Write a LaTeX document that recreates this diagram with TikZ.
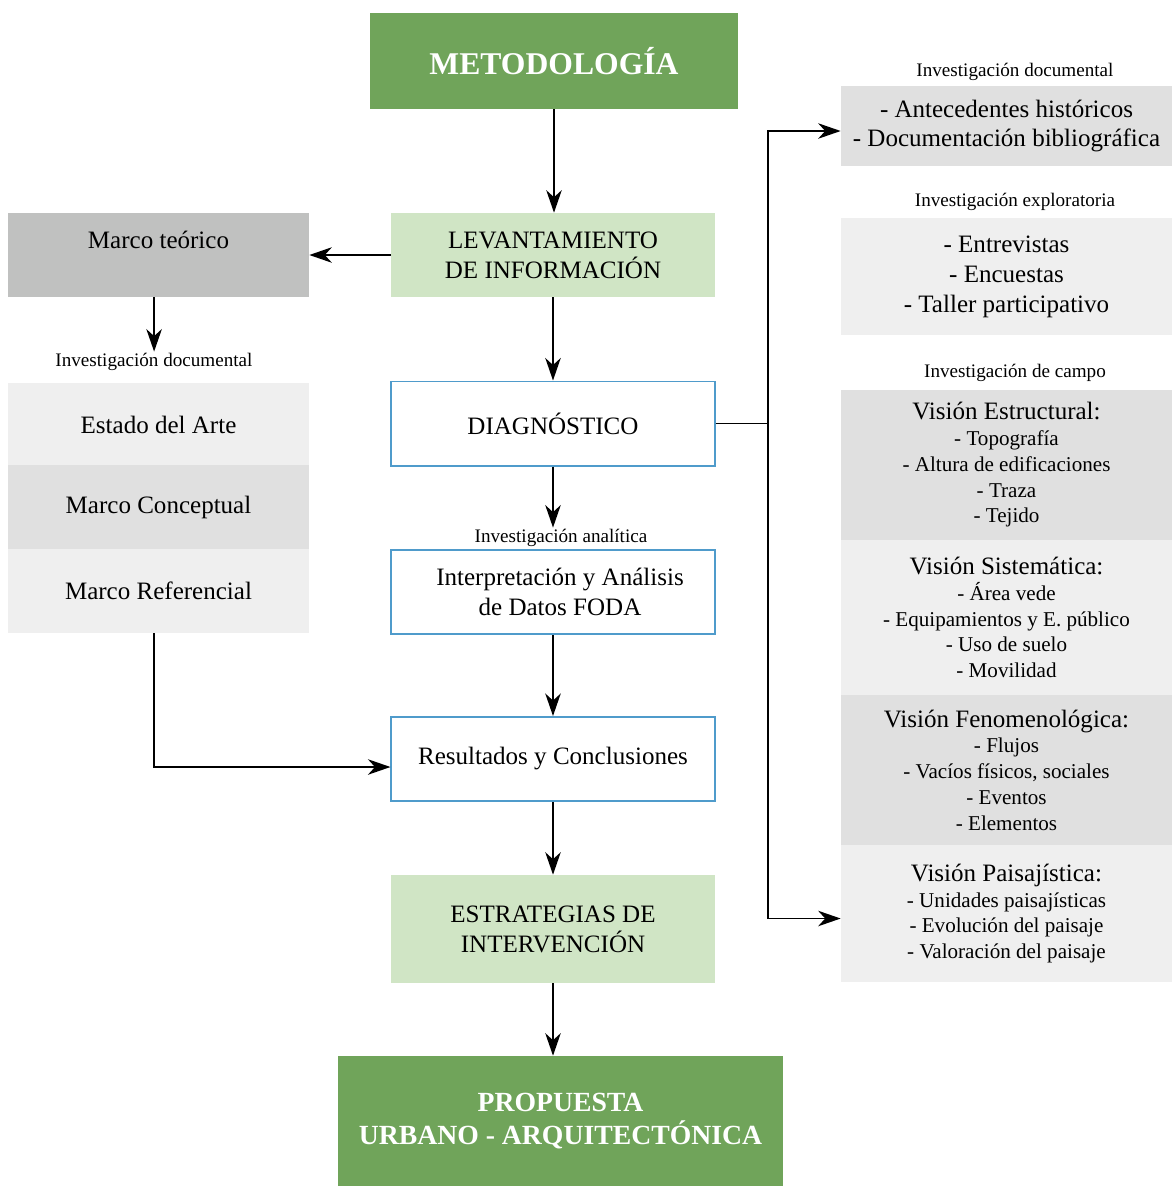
\documentclass[tikz,border=0pt]{standalone}
\usepackage{fontspec}
\setmainfont{Liberation Serif}
\usetikzlibrary{arrows.meta, positioning, calc}

\definecolor{mgreen}{HTML}{70A45A}
\definecolor{mlightgreen}{HTML}{D0E5C5}
\definecolor{mgray}{HTML}{C0C1C0}
\definecolor{mmid}{HTML}{E0E0E0}
\definecolor{mpale}{HTML}{EFEFEF}
\definecolor{mblue}{HTML}{4F9BCB}

\newcommand{\mainfs}{\fontsize{17.8}{21.3}\selectfont}
\newcommand{\itemfs}{\fontsize{15}{18.3}\selectfont}
\newcommand{\labfs}{\fontsize{13.6}{16}\selectfont}

\tikzset{
  headbox/.style={fill=mgreen, text=white, inner sep=0pt, align=center,
                  font=\fontsize{22.5}{26}\selectfont\bfseries},
  stagebox/.style={fill=mlightgreen, font=\mainfs, inner sep=0pt, align=center,
                   minimum width=8.075cm, minimum height=2.1cm},
  blubox/.style={draw=mblue, line width=1.4pt, fill=white, font=\mainfs, inner sep=0pt,
                 align=center, minimum width=8.075cm, minimum height=2.1cm},
  sidebox/.style={font=\mainfs, inner sep=0pt, align=center,
                  minimum width=7.525cm, minimum height=2.1cm},
  visbox/.style={font=\itemfs, inner sep=0pt, align=center, minimum width=8.275cm},
  tinylabel/.style={font=\labfs, inner sep=1pt},
  arr/.style={-{Stealth[length=16pt, width=11pt, inset=5pt]}, line width=1.4pt, black},
  wire/.style={line width=1.4pt, black},
}

\begin{document}
\begin{tikzpicture}[x=0.025cm, y=-0.025cm]
  \useasboundingbox (0,0) rectangle (1172,1186);

  %% ═══════════ CENTER: main sequence ═══════════
  \node[headbox, minimum width=9.2cm, minimum height=2.4cm] (metod) at (554,61)
    {METODOLOGÍA};
  \node[stagebox] (levant) at (553,255) {LEVANTAMIENTO\\DE INFORMACIÓN};
  \node[blubox] (diag) at (553,423.5) {DIAGNÓSTICO};
  \node[tinylabel] (lblanal) at (561,538) {Investigación analítica};
  \node[blubox] (interp) at (553,592) {\hspace*{0.35cm}Interpretación y Análisis\\\hspace*{0.35cm}de Datos FODA};
  \node[blubox] (result) at (553,759) {Resultados y Conclusiones};
  \node[stagebox, minimum height=2.7cm] (estrat) at (553,929)
    {ESTRATEGIAS DE\\INTERVENCIÓN};
  \node[headbox, font=\fontsize{19.7}{23.5}\selectfont\bfseries,
        minimum width=11.125cm, minimum height=3.25cm] (prop) at (560.5,1121)
    {PROPUESTA\\URBANO - ARQUITECTÓNICA};

  %% ═══════════ LEFT: theoretical frame ═══════════
  \node[sidebox, fill=mgray] (teorico) at (158.5,255) {Marco teórico\\ \mbox{}};
  \node[tinylabel] (lbldocl) at (154,362) {Investigación documental};
  \node[sidebox, fill=mpale] (estado) at (158.5,425) {Estado del Arte};
  \node[sidebox, fill=mmid] (concep) at (158.5,507) {Marco Conceptual};
  \node[sidebox, fill=mpale] (refer) at (158.5,591) {Marco Referencial};

  %% ═══════════ RIGHT: research types ═══════════
  \node[tinylabel] (lbldoc) at (1015,72) {Investigación documental};
  \node[visbox, font=\mainfs, fill=mmid, minimum height=2cm] (docu) at (1006.5,126)
    {- Antecedentes históricos\\- Documentación bibliográfica};

  \node[tinylabel] (lblexpl) at (1015,202) {Investigación exploratoria};
  \node[visbox, font=\mainfs, fill=mpale, minimum height=2.925cm] (explo) at (1006.5,276.5)
    {- Entrevistas\\- Encuestas\\- Taller participativo};

  \node[tinylabel] (lblcampo) at (1015,373) {Investigación de campo};
  \node[visbox, fill=mmid, minimum height=3.75cm] (estruc) at (1006.5,465)
    {{\mainfs Visión Estructural:}\\- Topografía\\- Altura de edificaciones\\- Traza\\- Tejido};
  \node[visbox, fill=mpale, minimum height=3.875cm] (sistem) at (1006.5,617.5)
    {{\mainfs Visión Sistemática:}\\- Área vede\\- Equipamientos y E. público\\- Uso de suelo\\- Movilidad};
  \node[visbox, fill=mmid, minimum height=3.75cm] (fenom) at (1006.5,770)
    {{\mainfs Visión Fenomenológica:}\\- Flujos\\- Vacíos físicos, sociales\\- Eventos\\- Elementos};
  \node[visbox, fill=mpale, minimum height=3.425cm] (paisaj) at (1006.5,913.5)
    {{\mainfs Visión Paisajística:}\\- Unidades paisajísticas\\- Evolución del paisaje\\- Valoración del paisaje};

  %% ═══════════ CONNECTORS ═══════════
  \draw[arr] (metod.south) -- (metod.south |- levant.north);
  \draw[arr] (levant.south) -- (diag.north);
  \draw[arr] (diag.south) -- (diag.south |- lblanal.north);
  \draw[arr] (interp.south) -- (result.north);
  \draw[arr] (result.south) -- (estrat.north);
  \draw[arr] (estrat.south) -- (estrat.south |- prop.north);

  \draw[arr] (levant.west) -- (teorico.east);
  \draw[arr] ([xshift=-0.11cm]teorico.south) -- ([xshift=-0.11cm]teorico.south |- lbldocl.north);
  \draw[arr] ([xshift=-0.11cm]refer.south) |- ([yshift=-0.2cm]result.west);

  \coordinate (bus) at (768,423.5);
  \draw[wire] (diag.east) -- (bus);
  \draw[arr] (bus) |- ([yshift=-0.125cm]docu.west);
  \draw[arr] (bus) |- ([yshift=-0.125cm]paisaj.west);

\end{tikzpicture}
\end{document}
